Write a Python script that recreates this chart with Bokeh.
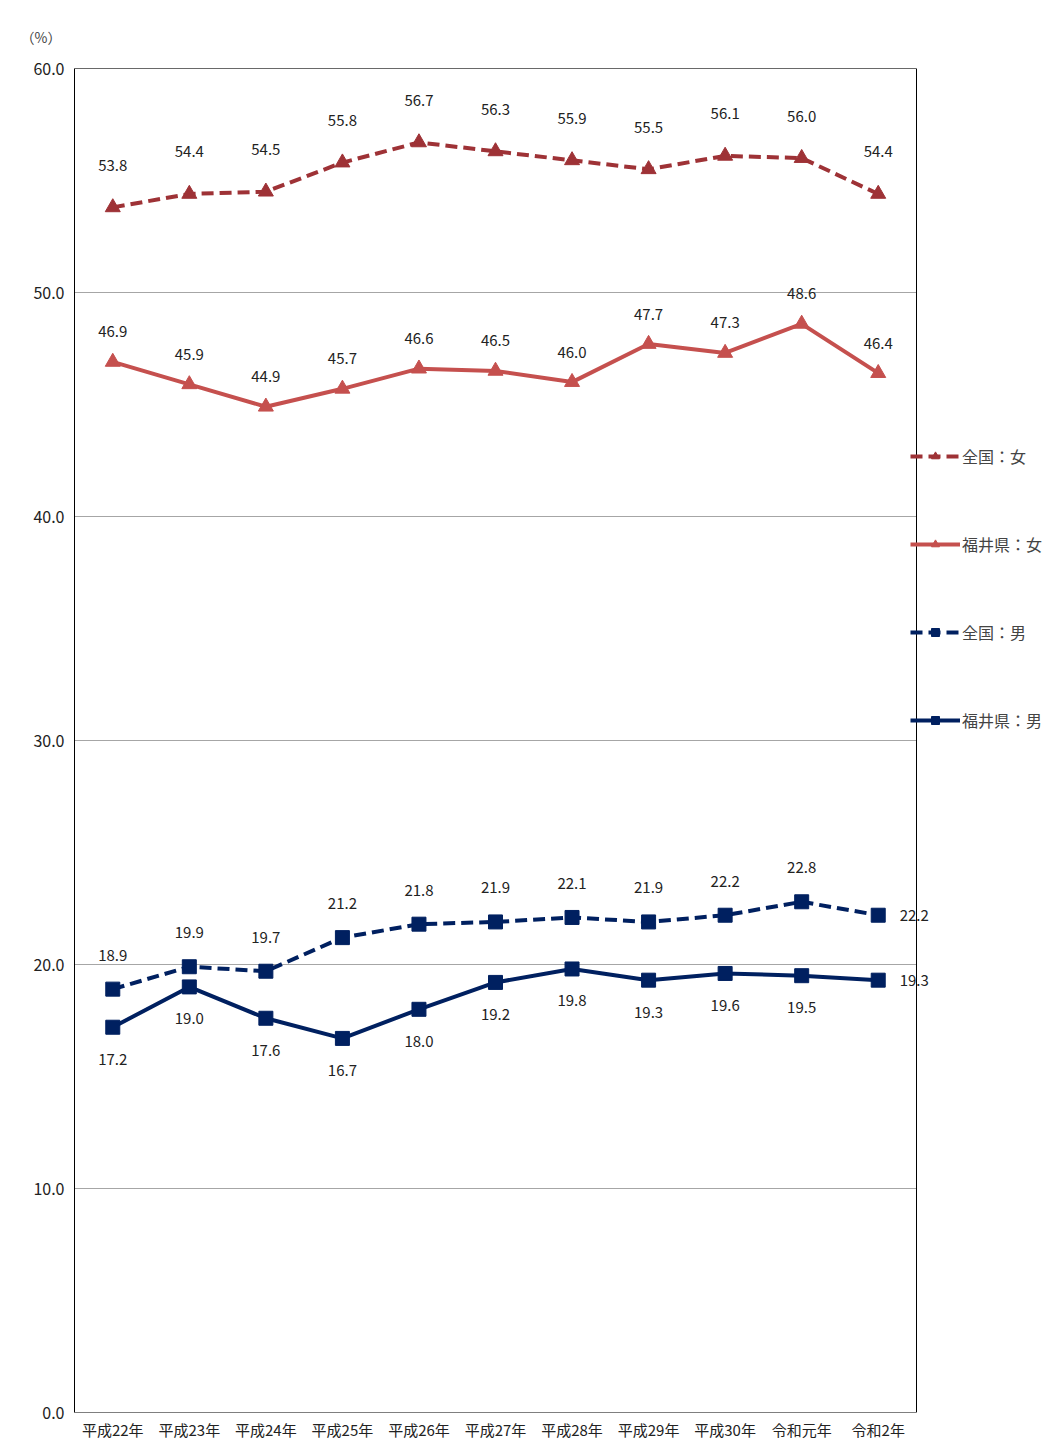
from bokeh.plotting import figure
from bokeh.models import ColumnDataSource, Legend, LegendItem, Label
from bokeh.embed import file_html
from bokeh.resources import INLINE

years = ["平成22年", "平成23年", "平成24年", "平成25年", "平成26年", "平成27年",
         "平成28年", "平成29年", "平成30年", "令和元年", "令和2年"]
zenkoku_f = [53.8, 54.4, 54.5, 55.8, 56.7, 56.3, 55.9, 55.5, 56.1, 56.0, 54.4]
fukui_f = [46.9, 45.9, 44.9, 45.7, 46.6, 46.5, 46.0, 47.7, 47.3, 48.6, 46.4]
zenkoku_m = [18.9, 19.9, 19.7, 21.2, 21.8, 21.9, 22.1, 21.9, 22.2, 22.8, 22.2]
fukui_m = [17.2, 19.0, 17.6, 16.7, 18.0, 19.2, 19.8, 19.3, 19.6, 19.5, 19.3]
yticks = [0, 10, 20, 30, 40, 50, 60]

FONT = "Noto Sans CJK JP"
DRED = "#9E3236"
LRED = "#C5504E"
NAVY = "#002060"

n = len(years)
xs = [i + 0.5 for i in range(n)]
W, L = 1055, 74
unit = 842 / n
p = figure(x_range=(0, (W - L) / unit), y_range=(0, 60), width=W, height=1443,
           output_backend="svg", toolbar_location=None, tools="",
           min_border_left=L, min_border_right=0, min_border_top=68,
           min_border_bottom=31, title="（%）")
p.title.text_font = FONT
p.title.text_font_size = "14px"
p.title.text_font_style = "normal"
p.title.text_color = "#444444"
p.title.offset = -54
p.title.standoff = 44
p.outline_line_color = None
p.xgrid.grid_line_color = None
p.ygrid.grid_line_color = None
# grid and frame limited to the category area
p.segment(x0=[0] * 6, x1=[n] * 6, y0=yticks[1:], y1=yticks[1:], line_color="#A6A6A6", line_width=1)
p.segment(x0=[0, n], x1=[n, n], y0=[0, 0], y1=[0, 60], line_color="black", line_width=1)
p.segment(x0=[0], x1=[n], y0=[60], y1=[60], line_color="black", line_width=1)

p.yaxis.ticker = yticks
p.yaxis.major_label_overrides = {v: f"{v:.1f}" for v in yticks}
p.xaxis.ticker = xs
p.xaxis.major_label_overrides = {x: y for x, y in zip(xs, years)}
p.xaxis.axis_line_color = None
for ax in (p.xaxis, p.yaxis):
    ax.major_tick_line_color = None
    ax.minor_tick_line_color = None
    ax.major_tick_out = 0
    ax.major_label_text_font = FONT
    ax.major_label_text_color = "#222222"
p.yaxis.axis_line_color = "black"
p.xaxis.major_label_text_font_size = "15px"
p.yaxis.major_label_text_font_size = "16px"
p.xaxis.major_label_standoff = 6
p.yaxis.major_label_standoff = 10

series = [
    ("全国：女", zenkoku_f, DRED, "12 6", "triangle", 15, -42),
    ("福井県：女", fukui_f, LRED, "solid", "triangle", 15, -30),
    ("全国：男", zenkoku_m, NAVY, "12 6", "square", 14, -34),
    ("福井県：男", fukui_m, NAVY, "solid", "square", 14, 32),
]
items = []
for name, vals, col, dash, marker, size, yoff in series:
    src = ColumnDataSource(dict(x=xs, y=vals))
    ln = p.line("x", "y", source=src, line_color=col, line_width=4, line_dash=dash)
    mk = p.scatter("x", "y", source=src, marker=marker, size=size, color=col)
    items.append(LegendItem(label=name, renderers=[ln, mk]))
    for i, v in enumerate(vals):
        xo, yo = 0, yoff
        if marker == "square" and i == n - 1:
            xo, yo = 36, 0
        p.add_layout(Label(x=xs[i], y=v, text=f"{v:.1f}", x_offset=xo, y_offset=-yo,
                           text_align="center", text_baseline="middle",
                           text_font=FONT, text_font_size="15px", text_color="#222222"))

leg = Legend(items=items, location=(836, 680), glyph_width=50, glyph_height=20,
             spacing=64, label_standoff=2, label_text_font=FONT,
             label_text_font_size="16px", border_line_color=None,
             background_fill_alpha=0, padding=0, margin=0)
p.add_layout(leg, "center")

open("out.html", "w").write(file_html(p, INLINE))
